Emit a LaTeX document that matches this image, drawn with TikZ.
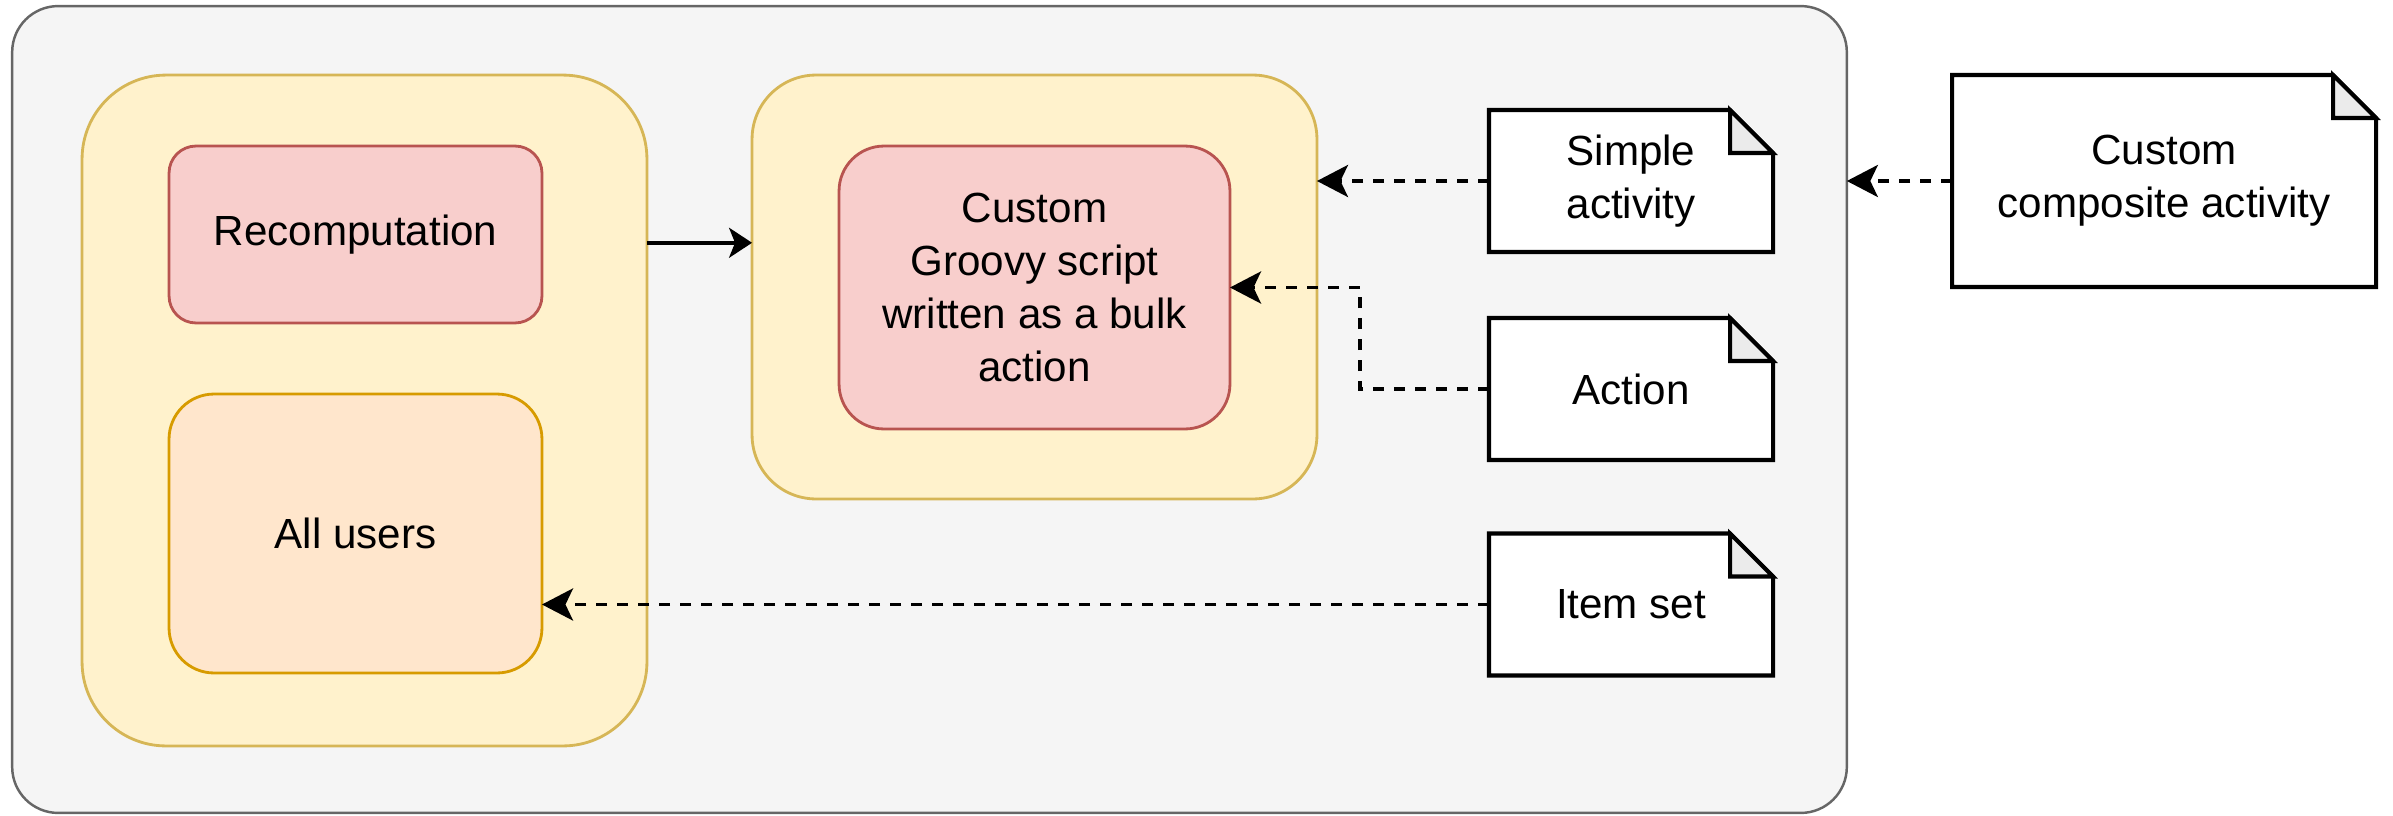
\documentclass[tikz,border=0pt]{standalone}
\usepackage{fontspec}
\setmainfont{Liberation Sans}
\usetikzlibrary{arrows.meta,calc}

\definecolor{groupfill}{HTML}{F5F5F5}
\definecolor{groupline}{HTML}{666666}
\definecolor{yelfill}{HTML}{FFF2CC}
\definecolor{yelline}{HTML}{D6B656}
\definecolor{redfill}{HTML}{F8CECC}
\definecolor{redline}{HTML}{B85450}
\definecolor{orafill}{HTML}{FFE6CC}
\definecolor{oraline}{HTML}{D79B00}
\definecolor{foldfill}{HTML}{EBEBEB}

\tikzset{
  lbl/.style={font=\fontsize{24}{30}\selectfont, align=center, text=black,
              inner sep=0pt, outer sep=0pt},
  group/.style={lbl, draw=groupline, fill=groupfill, line width=1.4pt},
  holder/.style={lbl, draw=yelline, fill=yelfill, line width=1.6pt},
  task/.style={lbl, draw=redline, fill=redfill, line width=1.6pt},
  scope box/.style={lbl, draw=oraline, fill=orafill, line width=1.6pt},
  notetext/.style={lbl, minimum width=5.68cm, minimum height=2.84cm},
  notepaper/.style={draw=black, fill=white, line width=2.3pt, line join=miter},
  notefold/.style={draw=black, fill=foldfill, line width=2.3pt, line join=miter},
  flow/.style={-{Stealth[length=0.46cm, width=0.6cm, inset=0.12cm]},
               draw=black, line width=2pt},
  dep/.style={-{Stealth[length=0.62cm, width=0.64cm, inset=0.15cm]},
              draw=black, line width=2.2pt, dash pattern=on 0.22cm off 0.2cm},
  pics/notepage/.style 2 args={code={
    \filldraw[notepaper] (-#1/2,-#2/2) -- (#1/2-43,-#2/2) -- (#1/2,-#2/2+43)
      -- (#1/2,#2/2) -- (-#1/2,#2/2) -- cycle;
    \filldraw[notefold] (#1/2-43,-#2/2) -- (#1/2-43,-#2/2+43) -- (#1/2,-#2/2+43) -- cycle;
  }}
}

\begin{document}
\begin{tikzpicture}[x=0.02cm, y=-0.02cm]
\useasboundingbox (0,0) rectangle (2393,815);

% outer group
\node[group, minimum width=36.7cm, minimum height=16.14cm, rounded corners=0.92cm]
  (outer) at (929.5,409.5) {};

% left container with its two parts
\node[holder, minimum width=11.3cm, minimum height=13.42cm, rounded corners=1.68cm]
  (left) at (364.5,410.5) {};
\node[task, minimum width=7.46cm, minimum height=3.54cm, rounded corners=0.54cm]
  (recomp) at (355.5,234.5) {Recomputation};
\node[scope box, minimum width=7.46cm, minimum height=5.58cm, rounded corners=0.9cm]
  (users) at (355.5,533.5) {All users};

% middle container
\node[holder, minimum width=11.3cm, minimum height=8.48cm, rounded corners=1.28cm]
  (mid) at (1034.5,287) {};
\node[task, minimum width=7.82cm, minimum height=5.66cm, rounded corners=0.9cm]
  (groovy) at (1034.5,287.5) {Custom\\Groovy script\\written as a bulk\\action};

% notes
\pic at (1631,181) {notepage={284}{142}};
\node[notetext] (simple) at (1631,181) {Simple\\activity};
\pic at (1631,389) {notepage={284}{142}};
\node[notetext] (action) at (1631,389) {Action};
\pic at (1631,604.5) {notepage={284}{142}};
\node[notetext] (items) at (1631,604.5) {Item set};
\pic at (2164,181) {notepage={424}{212}};
\node[lbl, minimum width=8.48cm, minimum height=4.24cm] (composite) at (2164,181)
  {Custom\\composite activity};

% connectors
\coordinate (leftout) at ($(left.north east)!0.25!(left.south east)$);
\draw[flow] (leftout) -- (leftout -| mid.west);
\draw[dep] (simple.west) -- (simple.west -| mid.east);
\draw[dep] (action.west) -- ($(action.west)+(-129,0)$) |- (groovy.east);
\draw[dep] (items.west) -- (items.west -| users.east);
\draw[dep] (composite.west) -- (composite.west -| outer.east);
\end{tikzpicture}
\end{document}
